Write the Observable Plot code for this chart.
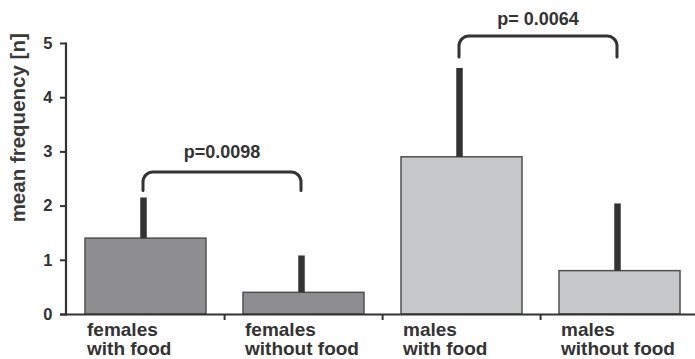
<!DOCTYPE html>
<html><head><meta charset="utf-8">
<script src="https://cdn.jsdelivr.net/npm/d3@7"></script>
<script src="https://cdn.jsdelivr.net/npm/@observablehq/plot@0.6"></script>
<style>body{margin:0;background:#fff}</style>
</head><body><div id="chart"></div>
<script>
const categories = ["females with food", "females without food", "males with food", "males without food"];
const labels = ["females\nwith food", "females\nwithout food", "males\nwith food", "males\nwithout food"];
const groups = ["females", "females", "males", "males"];
const means = [1.40, 0.40, 2.90, 0.80];
const errorTops = [2.15, 1.08, 4.54, 2.04];
const comparisonFrom = ["females with food", "males with food"];
const comparisonTo = ["females without food", "males without food"];
const bracketBase = [2.29, 4.75];
const bracketTop = [2.63, 5.14];
const pLabels = ["p=0.0098", "p= 0.0064"];
const pLabelY = [3.0, 5.44];
const yTicks = [0, 1, 2, 3, 4, 5];
const yLabel = "mean frequency [n]";
const yLabelStart = 1.70;

const ink = "#333";
const rows = categories.map((c, i) => ({c, label: labels[i], g: groups[i], m: means[i], e: errorTops[i]}));
const bracketRows = comparisonFrom.flatMap((f, i) => [
  {k: i, x: f, y: bracketBase[i]},
  {k: i, x: f, y: bracketTop[i]},
  {k: i, x: comparisonTo[i], y: bracketTop[i]},
  {k: i, x: comparisonTo[i], y: bracketBase[i]}
]);
const pRows = pLabels.map((t, i) => ({t, x: comparisonFrom[i], y: pLabelY[i]}));

function roundedCurve(r) {
  return function(context) {
    let pts = [];
    return {
      areaStart() {}, areaEnd() {},
      lineStart() { pts = []; },
      point(x, y) { pts.push([+x, +y]); },
      lineEnd() {
        if (!pts.length) return;
        context.moveTo(pts[0][0], pts[0][1]);
        for (let i = 1; i < pts.length - 1; i++) context.arcTo(pts[i][0], pts[i][1], pts[i + 1][0], pts[i + 1][1], r);
        const l = pts[pts.length - 1];
        context.lineTo(l[0], l[1]);
      }
    };
  };
}

const chart = Plot.plot({
  width: 695,
  height: 359,
  marginLeft: 60,
  marginRight: 0,
  marginTop: 43,
  marginBottom: 45,
  style: {fontFamily: "'Liberation Sans', Arial, sans-serif", background: "#fff", overflow: "visible"},
  x: {domain: categories, range: [65, 700], paddingInner: 0.232, paddingOuter: 0.116, axis: null},
  y: {domain: [0, 5], axis: null},
  color: {domain: ["females", "males"], range: ["#8e8e90", "#c7c8ca"]},
  marks: [
    Plot.barY(rows, {x: "c", y: "m", fill: "g", stroke: "#505050", strokeWidth: 1.5}),
    Plot.ruleX(rows, {x: "c", y1: "m", y2: "e", stroke: ink, strokeWidth: 6.5, dx: -2.5}),
    Plot.line(bracketRows, {x: "x", y: "y", z: "k", stroke: ink, strokeWidth: 3, curve: roundedCurve(10), dx: -3}),
    Plot.text(pRows, {x: "x", y: "y", text: "t", dx: 76, fill: ink, fontSize: 18, fontWeight: "bold"}),
    Plot.ruleY([0], {stroke: ink, strokeWidth: 2}),
    Plot.frame({anchor: "left", dx: 5.5, stroke: ink, strokeWidth: 2.2}),
    Plot.axisY({ticks: yTicks, tickFormat: d3.format("d"), tickSize: 6, tickPadding: 8, dx: 6, fontSize: 16.5, fontWeight: "bold", fill: ink, stroke: ink, strokeWidth: 2, label: null}),
    Plot.axisX({ticks: categories.slice(1), tickSize: 6, tickFormat: () => "", dx: -79.4, stroke: ink, strokeWidth: 2, label: null}),
    Plot.text(rows, {x: "c", text: "label", frameAnchor: "bottom", textAnchor: "start", lineAnchor: "top", lineHeight: 1.0, dx: -59, dy: 8, fontSize: 19, fontWeight: "bold", fill: ink}),
    Plot.text([yLabel], {frameAnchor: "left", y: () => yLabelStart, text: d => d, rotate: -90, textAnchor: "start", lineAnchor: "middle", dx: -42, fontSize: 20.5, fontWeight: "bold", fill: "#3a3a3a"})
  ]
});
document.getElementById("chart").appendChild(chart);
</script>
</body></html>
